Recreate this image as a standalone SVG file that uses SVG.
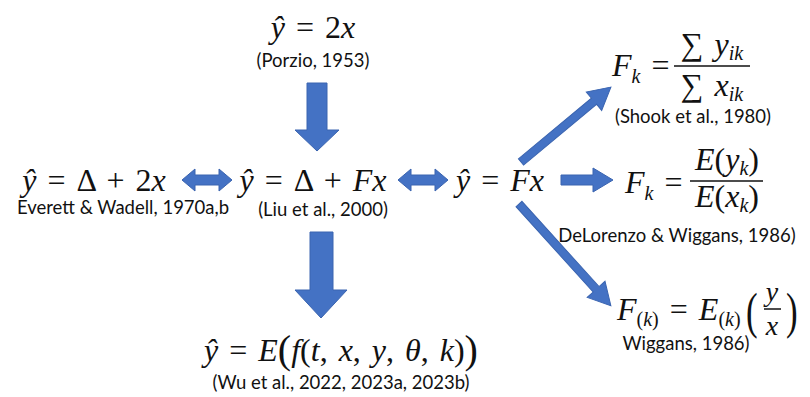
<svg xmlns="http://www.w3.org/2000/svg" width="810" height="397" viewBox="0 0 810 397">
<style>
.m{font-family:"Liberation Serif","DejaVu Serif",serif;font-size:32px;fill:#111;word-spacing:3px}
.i{font-style:italic}
.s{font-family:Lato,"Open Sans","Liberation Sans",sans-serif;font-size:18.5px;fill:#111}
.sub{font-size:20px}
.fr{font-size:28px}
.a{fill:#4472C4;stroke:#3a64b0;stroke-width:1}
.bar{stroke:#111;stroke-width:1.5}
</style>
<rect width="810" height="397" fill="#fff"/>
<g id="n-porzio">
<text class="m" x="313" y="38" text-anchor="middle"><tspan class="i">ŷ</tspan> = 2<tspan class="i">x</tspan></text>
<text class="s" x="313" y="67" text-anchor="middle">(Porzio, 1953)</text>
</g>
<g id="n-everett">
<text class="m" x="94" y="191" text-anchor="middle"><tspan class="i">ŷ</tspan> = Δ + 2<tspan class="i">x</tspan></text>
<text class="s" x="123" y="214" text-anchor="middle">Everett &amp; Wadell, 1970a,b</text>
</g>
<g id="n-liu">
<text class="m" x="313" y="191" text-anchor="middle"><tspan class="i">ŷ</tspan> = Δ + <tspan class="i">Fx</tspan></text>
<text class="s" x="323" y="216" text-anchor="middle">(Liu et al., 2000)</text>
</g>
<g id="n-fx">
<text class="m" x="500" y="191" text-anchor="middle"><tspan class="i">ŷ</tspan> = <tspan class="i">Fx</tspan></text>
</g>
<g id="n-shook">
<text class="m" x="612" y="76"><tspan class="i">F</tspan><tspan class="i sub" dy="7">k</tspan><tspan dy="-7"> =</tspan></text>
<text class="m" x="712" y="55" text-anchor="middle">∑ <tspan class="i">y</tspan><tspan class="i sub" dy="5">ik</tspan></text>
<line class="bar" x1="674" y1="66" x2="750" y2="66"/>
<text class="m" x="712" y="96" text-anchor="middle">∑ <tspan class="i">x</tspan><tspan class="i sub" dy="5">ik</tspan></text>
<text class="s" x="693" y="123" text-anchor="middle">(Shook et al., 1980)</text>
</g>
<g id="n-delorenzo">
<text class="m" x="625" y="193"><tspan class="i">F</tspan><tspan class="i sub" dy="7">k</tspan><tspan dy="-7"> =</tspan></text>
<text class="m" x="727" y="170" text-anchor="middle"><tspan class="i">E</tspan>(<tspan class="i">y</tspan><tspan class="i sub" dy="5">k</tspan><tspan dy="-5">)</tspan></text>
<line class="bar" x1="690" y1="181" x2="763" y2="181"/>
<text class="m" x="727" y="207" text-anchor="middle"><tspan class="i">E</tspan>(<tspan class="i">x</tspan><tspan class="i sub" dy="5">k</tspan><tspan dy="-5">)</tspan></text>
<text class="s" x="677" y="242" text-anchor="middle">DeLorenzo &amp; Wiggans, 1986)</text>
</g>
<g id="n-wiggans">
<text class="m" x="617" y="320"><tspan class="i">F</tspan><tspan class="sub" dy="6">(<tspan class="i">k</tspan>)</tspan><tspan dy="-6"> = </tspan><tspan class="i">E</tspan><tspan class="sub" dy="6">(<tspan class="i">k</tspan>)</tspan></text>
<text class="m" x="746" y="328" style="font-size:50px" transform="translate(746 0) scale(0.7 1) translate(-746 0)">(</text>
<text class="m fr i" x="772" y="301" text-anchor="middle">y</text>
<line class="bar" x1="764" y1="309" x2="781" y2="309"/>
<text class="m fr i" x="772" y="335" text-anchor="middle">x</text>
<text class="m" x="786" y="328" style="font-size:50px" transform="translate(786 0) scale(0.7 1) translate(-786 0)">)</text>
<text class="s" x="686" y="350" text-anchor="middle">Wiggans, 1986)</text>
</g>
<g id="n-wu">
<text class="m" x="341" y="361" text-anchor="middle"><tspan class="i">ŷ</tspan> = <tspan class="i">E</tspan><tspan style="font-size:40px" dy="2">(</tspan><tspan class="i" dy="-2">f</tspan>(<tspan class="i">t</tspan>, <tspan class="i">x</tspan>, <tspan class="i">y</tspan>, <tspan class="i">θ</tspan>, <tspan class="i">k</tspan>)<tspan style="font-size:40px" dy="2">)</tspan></text>
<text class="s" x="341" y="389" text-anchor="middle">(Wu et al., 2022, 2023a, 2023b)</text>
</g>
<g id="connectors">
<polygon class="a" points="307,83 327,83 327,130 339,130 317,151 295,130 307,130"/>
<polygon class="a" points="310,232 333,232 333,290 347,290 321,318 295,290 310,290"/>
<polygon class="a" points="182,180 195,169 195,175 219,175 219,169 232,180 219,191 219,185 195,185 195,191"/>
<polygon class="a" points="398,180 411,169 411,175 435,175 435,169 448,180 435,191 435,185 411,185 411,191"/>
<polygon class="a" points="561,175 593,175 593,168 613,180 593,192 593,185 561,185"/>
<g transform="translate(521,162) rotate(-39.8)"><polygon class="a" points="0,-4 95,-4 95,-12 117,0 95,12 95,4 0,4"/></g>
<g transform="translate(519,204) rotate(47.9)"><polygon class="a" points="0,-4 115,-4 115,-12 137,0 115,12 115,4 0,4"/></g>
</g>
</svg>
